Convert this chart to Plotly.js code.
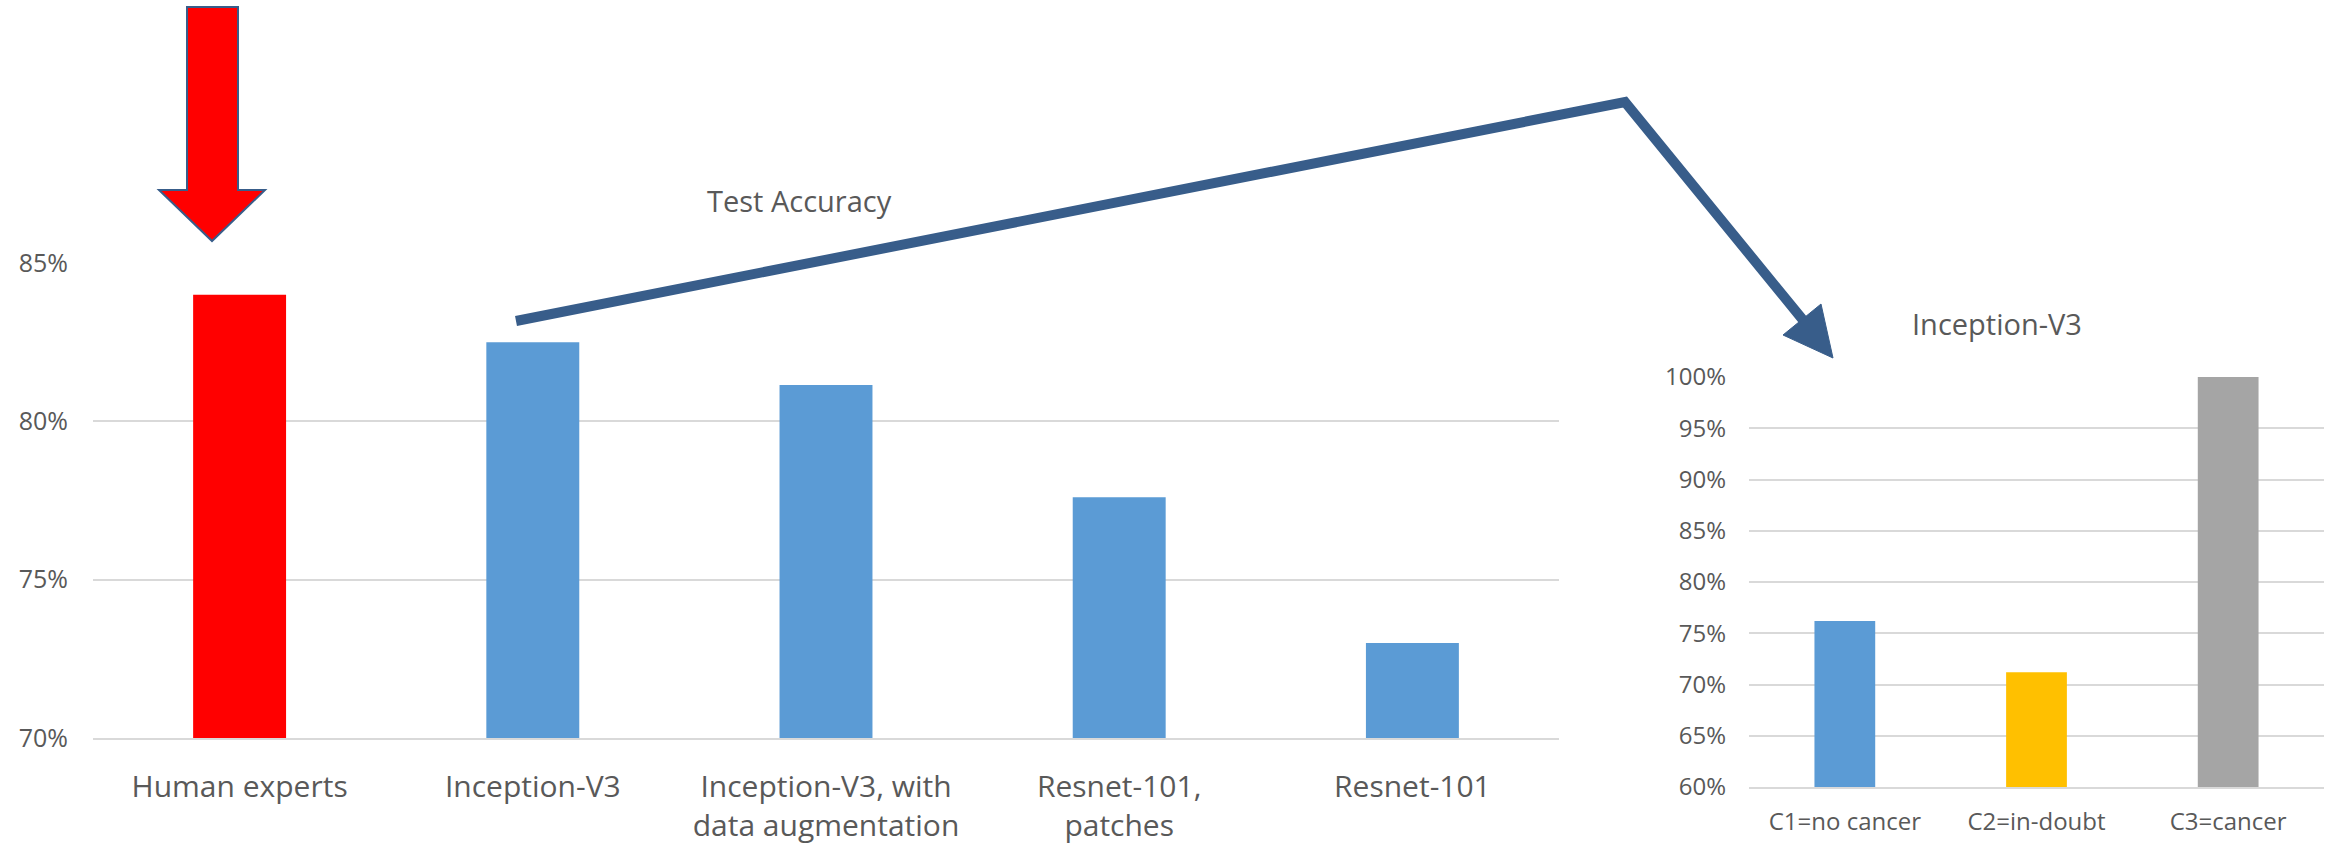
<!DOCTYPE html>
<html>
<head>
<meta charset="utf-8">
<script src="https://cdn.plot.ly/plotly-3.0.1.min.js"></script>
<style>
  html, body { margin: 0; padding: 0; background: #ffffff; }
  #chart { width: 2328px; height: 848px; }
</style>
</head>
<body>
<div id="chart"></div>
<script>
// Overall test accuracy per model
const models = [
  'Human experts',
  'Inception-V3',
  'Inception-V3, with<br>data augmentation',
  'Resnet-101,<br>patches',
  'Resnet-101'
];
const testAccuracy = [0.840, 0.825, 0.8115, 0.776, 0.730];

// Per-class accuracy of Inception-V3
const classes = ['C1=no cancer', 'C2=in-doubt', 'C3=cancer'];
const classAccuracy = [0.762, 0.712, 1.000];

// Bar colours
const modelColors = ['#FF0000', '#5B9BD5', '#5B9BD5', '#5B9BD5', '#5B9BD5'];
const classColors = ['#5B9BD5', '#FFC000', '#A5A5A5'];

const W = 2328, H = 848;
const px = x => x / W;
const py = y => 1 - y / H;

const textGrey = '#595959';
const gridGrey = '#D9D9D9';
const shapeBlue = '#385D8A';
const FONT = '"Open Sans", "Noto Sans", sans-serif';

const traces = [
  {
    type: 'bar', x: models, y: testAccuracy,
    xaxis: 'x', yaxis: 'y',
    marker: { color: modelColors, line: { width: 0 } },
    hoverinfo: 'x+y'
  },
  {
    type: 'bar', x: classes, y: classAccuracy,
    xaxis: 'x2', yaxis: 'y2',
    marker: { color: classColors, line: { width: 0 } },
    hoverinfo: 'x+y'
  }
];

function pathFrom(points, close) {
  return points.map((p, i) => (i ? 'L' : 'M') + px(p[0]) + ',' + py(p[1])).join(' ') + (close ? ' Z' : '');
}

// Red down arrow above the human-expert bar
const redArrow = [[187, 7], [238, 7], [238, 190], [265, 190], [212, 241], [159, 190], [187, 190]];
// Connector from the Inception-V3 bar to the per-class panel
const connector = [[516, 321], [1625, 102], [1803, 320]];
const connectorHead = [[1783, 335], [1821, 304], [1833, 358]];

const layout = {
  width: W, height: H,
  margin: { l: 0, r: 0, t: 0, b: 0 },
  paper_bgcolor: '#ffffff',
  plot_bgcolor: '#ffffff',
  showlegend: false,
  bargap: 0.683,
  font: { family: FONT, color: textGrey },
  xaxis: {
    domain: [px(93), px(1559)],
    anchor: 'y',
    showgrid: false,
    showline: true, linecolor: gridGrey, linewidth: 2,
    ticks: '',
    tickfont: { family: FONT, size: 30, color: textGrey },
    ticklabelstandoff: 21,
    fixedrange: true
  },
  yaxis: {
    domain: [py(738), py(263)],
    anchor: 'x',
    range: [0.70, 0.85],
    dtick: 0.05,
    tickformat: '.0%',
    showgrid: true, gridcolor: gridGrey, gridwidth: 2,
    zeroline: false, showline: false,
    ticks: '',
    tickfont: { family: FONT, size: 25, color: textGrey },
    ticklabelstandoff: 24,
    fixedrange: true
  },
  xaxis2: {
    domain: [px(1749), px(2324)],
    anchor: 'y2',
    showgrid: false,
    showline: true, linecolor: gridGrey, linewidth: 2,
    ticks: '',
    tickfont: { family: FONT, size: 24, color: textGrey },
    ticklabelstandoff: 12,
    fixedrange: true
  },
  yaxis2: {
    domain: [py(787), py(377)],
    anchor: 'x2',
    range: [0.60, 1.00],
    dtick: 0.05,
    tickformat: '.0%',
    showgrid: true, gridcolor: gridGrey, gridwidth: 2,
    zeroline: false, showline: false,
    ticks: '',
    tickfont: { family: FONT, size: 24, color: textGrey },
    ticklabelstandoff: 22,
    fixedrange: true
  },
  annotations: [
    {
      text: 'Test Accuracy', xref: 'paper', yref: 'paper',
      x: px(799), y: py(200), xanchor: 'center', yanchor: 'middle',
      showarrow: false, font: { family: FONT, size: 29, color: textGrey }
    },
    {
      text: 'Inception-V3', xref: 'paper', yref: 'paper',
      x: px(1997), y: py(323), xanchor: 'center', yanchor: 'middle',
      showarrow: false, font: { family: FONT, size: 29, color: textGrey }
    }
  ],
  shapes: [
    {
      type: 'path', xref: 'paper', yref: 'paper',
      path: pathFrom(redArrow, true),
      fillcolor: '#FF0000',
      line: { color: shapeBlue, width: 2 }
    },
    {
      type: 'path', xref: 'paper', yref: 'paper',
      path: pathFrom(connector, false),
      line: { color: shapeBlue, width: 10 }
    },
    {
      type: 'path', xref: 'paper', yref: 'paper',
      path: pathFrom(connectorHead, true),
      fillcolor: shapeBlue,
      line: { color: shapeBlue, width: 1 }
    }
  ]
};

Plotly.newPlot('chart', traces, layout, { staticPlot: true, displayModeBar: false });
</script>
</body>
</html>
